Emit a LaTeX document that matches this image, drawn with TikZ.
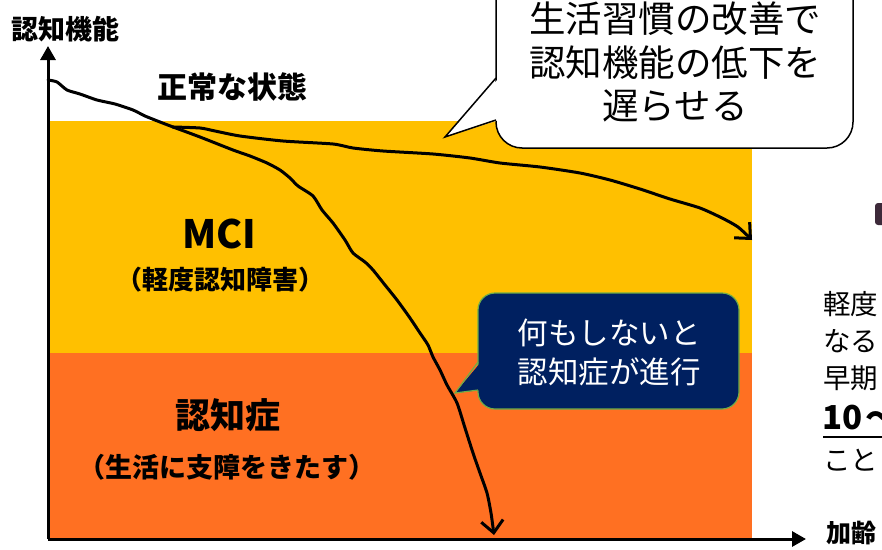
\documentclass[tikz,border=0pt]{standalone}
\usepackage{fontspec}
\setmainfont{Noto Sans CJK JP}
\usetikzlibrary{arrows.meta}
\definecolor{mciyellow}{HTML}{FFC000}
\definecolor{demorange}{HTML}{FF7022}
\definecolor{navy}{HTML}{002060}
\definecolor{bubgreen}{HTML}{70AD47}
\definecolor{darkmark}{HTML}{3D2A3A}
\newcommand{\fsz}[2]{\fontsize{#1}{#2}\selectfont}
\tikzset{
  axisline/.style={line width=3pt, -{Triangle[length=14pt,width=15pt]}},
  curveline/.style={line width=3pt, line join=round, line cap=round},
  curvetip/.style={-{Straight Barb[length=12pt,width=22pt,line width=3pt]}},
  lbl/.style={inner sep=0pt, font=\bfseries},
  plain/.style={inner sep=0pt},
}
\begin{document}
\begin{tikzpicture}[x=1pt,y=-1pt]
\useasboundingbox (0,0) rectangle (882,549);
\clip (0,0) rectangle (882,549);
% bands
\fill[mciyellow] (48,121) rectangle (752,353);
\fill[demorange] (48,353) rectangle (752,540);
% axes
\coordinate (O) at (48,539);
\coordinate (ytop) at (48,46);
\coordinate (xend) at (806,539);
\draw[axisline] (O) -- (ytop);
\draw[axisline] (O) -- (xend);
% labels
\node[lbl, font=\bfseries\fsz{27}{27}] (ylab) at (65,29) {認知機能};
\node[lbl, font=\bfseries\fsz{25}{25}, anchor=west] (xlab) at (826,533) {加齢};
\node[lbl, font=\bfseries\fsz{30}{30}] (normal) at (232,87) {正常な状態};
\node[lbl, font=\bfseries\fsz{39}{39}] (mci) at (219,234) {MCI};
\node[lbl, font=\bfseries\fsz{26}{26}] (mcisub) at (220,280) {（軽度認知障害）};
\node[lbl, font=\bfseries\fsz{35}{35}] (dem) at (228,415) {認知症};
\node[lbl, font=\bfseries\fsz{27}{27}] (demsub) at (227,467) {（生活に支障をきたす）};
% curves
\coordinate (start) at (48,80);
\coordinate (split) at (173,127);
\draw[curveline] plot[smooth, tension=0.4] coordinates {(start) (57,82) (67,90) (80,94) (97,100) (115,104) (133,110) (145,116) (160,122) (split)};
\draw[curveline, curvetip] plot[smooth, tension=0.4] coordinates {(split) (200,128) (215,131) (240,136) (283,141) (333,144) (353,148) (383,151) (433,154) (470,158) (500,163) (540,167) (580,173) (610,180) (640,189) (670,199) (700,208) (722,218) (738,227) (752,240)};
\draw[curveline, curvetip] plot[smooth, tension=0.4] coordinates {(split) (200,137) (233,150) (250,156) (267,163) (280,170) (290,178) (298,186) (313,196) (322,210) (333,223) (345,240) (353,253) (365,262) (373,270) (385,285) (397,300) (410,318) (420,333) (428,345) (433,357) (440,370) (447,385) (457,403) (465,428) (473,453) (480,473) (487,493) (491,513) (494,535)};
% bubble 1
\draw[line width=1.5pt, fill=white, rounded corners=26pt] (496,-40) rectangle (853,148);
\fill[white] (499,78) -- (445,137) -- (499,120) -- cycle;
\draw[line width=1.5pt, line join=miter] (496,78) -- (445,137) -- (496,120);
\node[plain, align=center, font=\fsz{36.5}{43.5}] (b1) at (675,62) {生活習慣の改善で\\認知機能の低下を\\遅らせる};
% bubble 2
\draw[line width=1.2pt, draw=bubgreen, fill=navy, rounded corners=17pt] (478,293) rectangle (739,409);
\fill[navy] (481,362) -- (455,393) -- (481,390) -- cycle;
\draw[line width=1.2pt, draw=bubgreen, line join=miter] (478,362) -- (455,393) -- (478,390);
\node[plain, align=center, text=white, font=\fsz{30.5}{39}] (b2) at (609,352) {何もしないと\\認知症が進行};
% right-side cut text
\fill[darkmark, rounded corners=3pt] (875,203) rectangle (886,225);
\node[plain, anchor=west, font=\fsz{27.5}{27.5}] (r1) at (823,304) {軽度};
\node[plain, anchor=west, font=\fsz{27.5}{27.5}] (r2) at (823,341) {なる};
\node[plain, anchor=west, font=\fsz{27.5}{27.5}] (r3) at (823,378) {早期};
\node[plain, anchor=west, font=\bfseries\fsz{33}{33}] (r4) at (822,418) {10\hspace{3pt}～};
\coordinate (ul1) at (823,437);
\coordinate (ul2) at (882,437);
\draw[line width=1.8pt] (ul1) -- (ul2);
\node[plain, anchor=west, font=\fsz{27.5}{27.5}] (r5) at (823,460) {こと};
\end{tikzpicture}
\end{document}
